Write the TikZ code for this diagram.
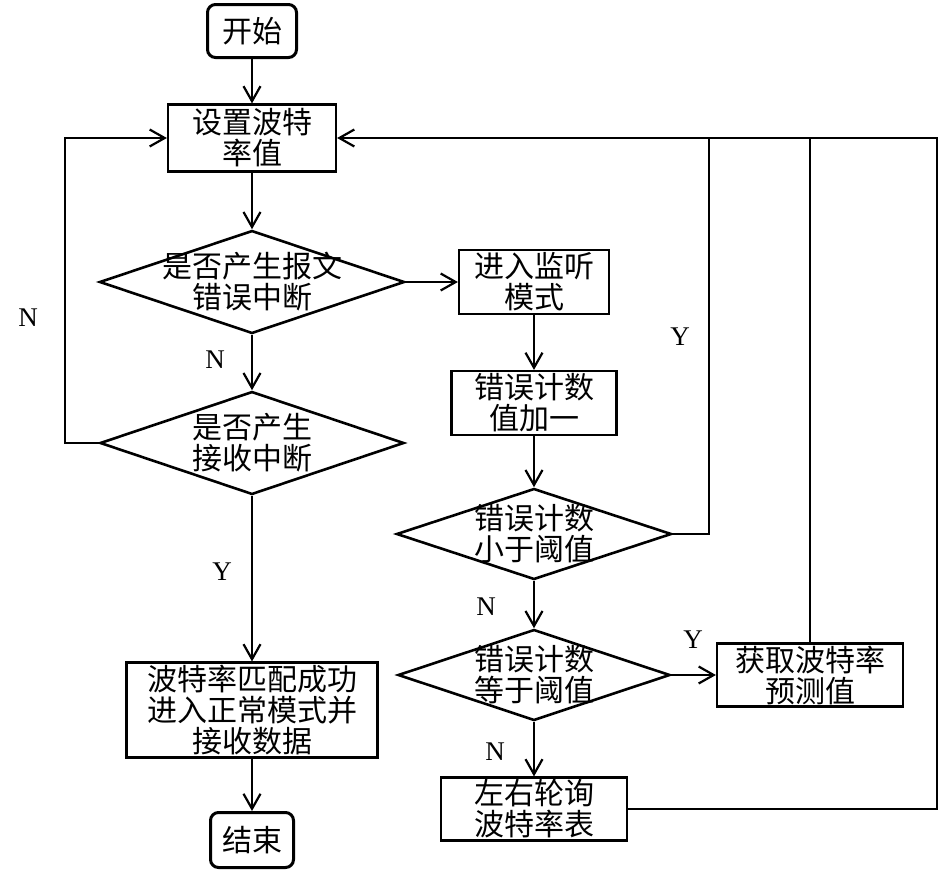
\documentclass[tikz,border=0pt]{standalone}
\usepackage{fontspec}
\setmainfont{Liberation Serif}
\newfontfamily\cjk{Noto Sans CJK SC}
\usetikzlibrary{arrows.meta, positioning, shapes.geometric}
\tikzstyle{startstop}=[rectangle, rounded corners=8pt, draw, line width=3pt, inner sep=0pt, font=\cjk\fontsize{30}{31}\selectfont]
\tikzstyle{process}=[rectangle, draw, line width=2.2pt, inner sep=0pt, align=center, font=\cjk\fontsize{30}{31}\selectfont]
\tikzstyle{decision}=[diamond, draw, line width=2.6pt, inner sep=0pt]
\tikzstyle{dtext}=[inner sep=0pt, align=center, font=\cjk\fontsize{30}{31}\selectfont]
\tikzstyle{yn}=[inner sep=0pt, font=\fontsize{27}{27}\selectfont]
\tikzstyle{line}=[line width=2.2pt]
\tikzstyle{post}=[line, -{Straight Barb[length=15pt, width=17pt]}]

\begin{document}
\begin{tikzpicture}[x=1pt, y=-1pt]
    \useasboundingbox (0,0) rectangle (946,871);

    % Main column:
    \node[startstop, minimum width=89pt, minimum height=53pt] (start) at (252,31) {开始};
    \node[process, minimum width=168pt, minimum height=67pt] (setbaud) [below of=start, node distance=107pt] {设置波特\\率值};
    \node[decision, minimum width=305pt, minimum height=103pt] (msgerr) [below of=setbaud, node distance=144pt] {};
    \node[dtext] (msgerrtext) at (msgerr) {是否产生报文\\错误中断};
    \node[decision, minimum width=304pt, minimum height=103pt] (recv) [below of=msgerr, node distance=161pt] {};
    \node[dtext] (recvtext) at (recv) {是否产生\\接收中断};
    \node[process, minimum width=251pt, minimum height=95pt] (match) [below of=recv, node distance=267pt] {波特率匹配成功\\进入正常模式并\\接收数据};
    \node[startstop, minimum width=83pt, minimum height=55pt] (stop) [below of=match, node distance=130pt] {结束};

    % Listen column:
    \node[process, minimum width=150pt, minimum height=64pt] (listen) [right of=msgerr, node distance=282pt] {进入监听\\模式};
    \node[process, minimum width=165pt, minimum height=64pt] (errinc) [below of=listen, node distance=121pt] {错误计数\\值加一};
    \node[decision, minimum width=275pt, minimum height=91pt] (less) [below of=errinc, node distance=131pt] {};
    \node[dtext] (lesstext) at (less) {错误计数\\小于阈值};
    \node[decision, minimum width=272pt, minimum height=91pt] (equal) [below of=less, node distance=141pt] {};
    \node[dtext] (equaltext) at (equal) {错误计数\\等于阈值};
    \node[process, minimum width=186pt, minimum height=63pt] (poll) [below of=equal, node distance=134pt] {左右轮询\\波特率表};
    \node[process, minimum width=186pt, minimum height=63pt] (predict) [right of=equal, node distance=276pt] {获取波特率\\预测值};

    % Corners of the feedback lines:
    \coordinate (loopL) at (65,138);
    \coordinate (jless) at (709,138);
    \coordinate (jpred) at (810,138);
    \coordinate (jpoll) at (937,138);

    % Labels:
    \node[yn] (nloop) at (28,318) {N};
    \node[yn] (nmsg) at (215,360) {N};
    \node[yn] (yrecv) at (222,572) {Y};
    \node[yn] (yless) at (680,337) {Y};
    \node[yn] (nless) at (486,607) {N};
    \node[yn] (yequal) at (693,640) {Y};
    \node[yn] (nequal) at (495,752) {N};

    \draw[post] (start) -- (setbaud);
    \draw[post] (setbaud) -- (msgerr);
    \draw[post] (msgerr) -- (recv);
    \draw[post] (recv) -- (match);
    \draw[post] (match) -- (stop);
    \draw[post] (msgerr.east) -- (listen);
    \draw[post] (listen) -- (errinc);
    \draw[post] (errinc) -- (less);
    \draw[post] (less) -- (equal);
    \draw[post] (equal) -- (poll);
    \draw[post] (equal.east) -- (predict);
    \draw[post] (recv.west) -| (loopL) -- (setbaud.west);
    \draw[line] (less.east) -| (jless);
    \draw[line] (predict.north) -- (jpred);
    \draw[post] (poll.east) -| (jpoll) -- (setbaud.east);
\end{tikzpicture}
\end{document}
